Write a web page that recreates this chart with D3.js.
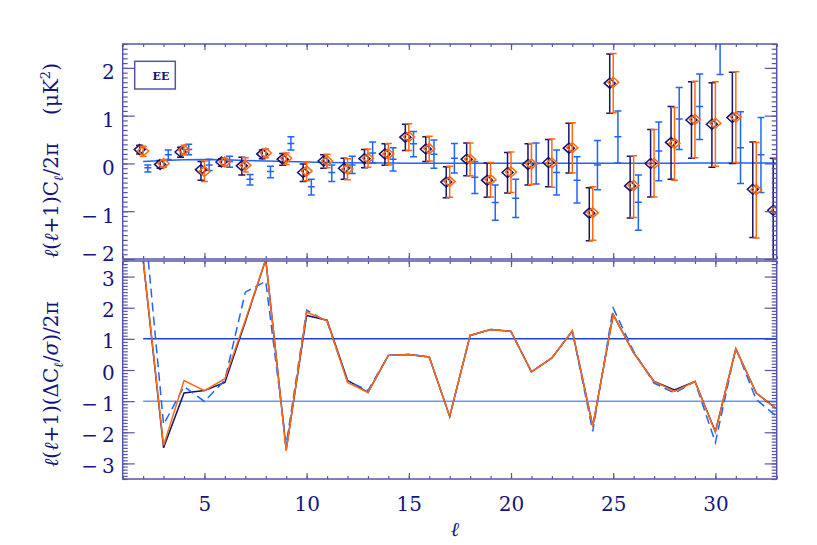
<!DOCTYPE html>
<html><head><meta charset="utf-8">
<script src="https://cdn.jsdelivr.net/npm/d3@7"></script>
<style>body{margin:0;background:#fff}svg{display:block}</style>
</head><body><svg id="c" width="817" height="545"></svg>
<script>
// ---------- data ----------
const ell = [2,3,4,5,6,7,8,9,10,11,12,13,14,15,16,17,18,19,20,21,22,23,24,25,26,27,28,29,30,31,32,33];

const navyVal = [0.29,-0.02,0.24,-0.13,0.03,-0.05,0.20,0.09,-0.19,0.05,-0.10,0.10,0.20,0.55,0.30,-0.39,0.09,-0.35,-0.19,-0.02,0.02,0.32,-1.04,1.68,-0.47,0.00,0.44,0.91,0.82,0.96,-0.54,-0.98];
const navyLo  = [0.20,-0.10,0.13,-0.35,-0.06,-0.24,0.10,-0.04,-0.38,-0.10,-0.33,-0.09,-0.04,0.27,0.04,-0.72,-0.26,-0.71,-0.62,-0.45,-0.49,-0.20,-1.62,1.05,-1.14,-0.70,-0.33,0.11,-0.08,0.00,-1.55,-2.10];
const navyHi  = [0.38,0.06,0.34,0.04,0.10,0.13,0.28,0.21,-0.01,0.18,0.11,0.29,0.41,0.82,0.56,-0.07,0.43,0.01,0.23,0.41,0.50,0.84,-0.51,2.29,0.15,0.71,1.19,1.71,1.69,1.91,0.45,0.11];

const orangeVal = [0.26,0.00,0.28,-0.17,0.03,-0.04,0.22,0.11,-0.16,0.05,-0.12,0.11,0.20,0.56,0.31,-0.38,0.09,-0.34,-0.18,-0.01,0.01,0.33,-1.03,1.70,-0.46,0.00,0.42,0.92,0.84,0.97,-0.55,-0.98];
const orangeLo  = [0.15,-0.08,0.18,-0.38,-0.05,-0.18,0.12,-0.02,-0.36,-0.09,-0.34,-0.08,-0.03,0.27,0.05,-0.71,-0.26,-0.70,-0.61,-0.44,-0.50,-0.20,-1.61,1.06,-1.13,-0.70,-0.35,0.12,-0.06,0.02,-1.56,-2.10];
const orangeHi  = [0.36,0.07,0.38,0.05,0.11,0.12,0.30,0.22,0.02,0.19,0.10,0.30,0.42,0.83,0.57,-0.06,0.43,0.02,0.24,0.42,0.51,0.85,-0.49,2.30,0.16,0.71,1.17,1.72,1.71,1.92,0.44,0.11];

const blueVal = [-0.09,0.18,0.29,-0.03,0.04,-0.33,-0.17,0.42,-0.49,-0.19,-0.03,0.22,0.09,0.41,0.19,0.11,-0.29,-0.82,-0.73,0.00,-0.19,-0.35,-0.03,0.56,-0.81,0.26,0.93,1.19,2.60,0.33,0.18,-0.30];
const blueLo  = [-0.18,0.08,0.18,-0.15,-0.08,-0.45,-0.30,0.28,-0.66,-0.38,-0.21,0.01,-0.16,0.14,-0.10,-0.20,-0.63,-1.19,-1.13,-0.43,-0.66,-0.83,-0.55,0.01,-1.40,-0.36,0.29,0.50,1.86,-0.42,-0.61,-1.10];
const blueHi  = [-0.03,0.28,0.40,0.09,0.15,-0.23,-0.06,0.56,-0.33,-0.03,0.15,0.45,0.33,0.67,0.49,0.42,0.04,-0.45,-0.33,0.43,0.28,0.14,0.48,1.10,-0.24,0.87,1.59,1.87,3.30,1.08,0.96,0.50];

const theory = [0.04,0.06,0.075,0.08,0.075,0.06,0.05,0.04,0.03,0.02,0.015,0.01,0.008,0.006,0.005,0.005,0.005,0.005,0.005,0.005,0.005,0.005,0.005,0.005,0.005,0.005,0.006,0.007,0.008,0.009,0.01,0.01];

const resNavy   = [3.53,-2.50,-0.74,-0.66,-0.40,1.55,3.55,-2.56,1.75,1.60,-0.33,-0.72,0.47,0.50,0.42,-1.49,1.11,1.30,1.24,-0.06,0.39,1.25,-1.81,1.78,0.55,-0.37,-0.64,-0.37,-1.98,0.68,-0.74,-1.25];
const resOrange = [3.55,-2.42,-0.34,-0.66,-0.28,1.60,3.55,-2.60,1.86,1.58,-0.40,-0.72,0.47,0.50,0.42,-1.49,1.11,1.30,1.24,-0.06,0.39,1.27,-1.81,1.78,0.55,-0.37,-0.69,-0.37,-2.00,0.68,-0.74,-1.25];
const resBlue   = [5.30,-1.75,-0.53,-1.01,-0.32,2.50,2.85,-2.40,1.92,1.55,-0.35,-0.66,0.47,0.50,0.42,-1.49,1.11,1.30,1.24,-0.06,0.39,1.25,-1.97,1.99,0.60,-0.42,-0.74,-0.37,-2.33,0.70,-0.95,-1.49];

const xTicks = [5,10,15,20,25,30];
const topYTicks = [-2,-1,0,1,2];
const botYTicks = [-3,-2,-1,0,1,2,3];
const refLevels = [1,-1];
const legendLabel = "EE";

// ---------- layout ----------
const C = {navy:"#14146e", orange:"#ff6a10", blue:"#1e64ff", axis:"#5656a8", text:"#14147a",
           ref1:"#1a40d8", ref2:"#6a96ff"};
const svg = d3.select("#c");
const X0 = 122.7, X1 = 776.7;
const x = d3.scaleLinear().domain([1,33]).range([X0,X1]);
const yT = d3.scaleLinear().domain([-2,2.5]).range([259,44]);
const yB = d3.scaleLinear().domain([-3.5,3.5]).range([479,261]);

const defs = svg.append("defs");
defs.append("clipPath").attr("id","clipT").append("rect")
  .attr("x",X0).attr("y",44).attr("width",X1-X0).attr("height",215);
defs.append("clipPath").attr("id","clipB").append("rect")
  .attr("x",X0).attr("y",261).attr("width",X1-X0).attr("height",218);

const fmt = d => d < 0 ? "\u2212\u2009" + Math.abs(d) : String(d);
const font = "'DejaVu Serif', serif";

function panelAxes(y, top, bottom, yTicks, showX, labelDy){
  const minorY = d3.range(Math.ceil(y.domain()[0]*10), Math.floor(y.domain()[1]*10)+1).map(v=>v/10);
  const minorX = d3.range(1,34);
  // left
  svg.append("g").attr("transform",`translate(${X0},0)`)
    .call(d3.axisLeft(y).tickValues(minorY).tickSize(-5).tickFormat(""))
    .call(g=>g.select(".domain").remove());
  const gl = svg.append("g").attr("transform",`translate(${X0},0)`)
    .call(d3.axisLeft(y).tickValues(yTicks).tickSize(-12).tickPadding(8).tickFormat(fmt))
    .call(g=>g.select(".domain").remove());
  gl.selectAll("text").attr("font-family",font).attr("font-size",20).attr("fill",C.text).attr("dy",labelDy);
  // right
  svg.append("g").attr("transform",`translate(${X1},0)`)
    .call(d3.axisRight(y).tickValues(minorY).tickSize(-5).tickFormat(""))
    .call(g=>g.select(".domain").remove());
  svg.append("g").attr("transform",`translate(${X1},0)`)
    .call(d3.axisRight(y).tickValues(yTicks).tickSize(-12).tickFormat(""))
    .call(g=>g.select(".domain").remove());
  // top & bottom
  [[top,d3.axisTop],[bottom,d3.axisBottom]].forEach(([yy,ax])=>{
    svg.append("g").attr("transform",`translate(0,${yy})`)
      .call(ax(x).tickValues(minorX).tickSize(-3).tickFormat(""))
      .call(g=>g.select(".domain").remove());
  });
  svg.append("g").attr("transform",`translate(0,${top})`)
    .call(d3.axisTop(x).tickValues(xTicks).tickSize(-6).tickFormat(""))
    .call(g=>g.select(".domain").remove());
  const gb = svg.append("g").attr("transform",`translate(0,${bottom})`)
    .call(d3.axisBottom(x).tickValues(xTicks).tickSize(-6).tickPadding(18).tickFormat(showX?d3.format("d"):""))
    .call(g=>g.select(".domain").remove());
  gb.selectAll("text").attr("font-family",font).attr("font-size",20).attr("fill",C.text);
  svg.selectAll(".tick line").attr("stroke",C.axis).attr("stroke-width",1.2);
  svg.append("rect").attr("x",X0).attr("y",top).attr("width",X1-X0).attr("height",bottom-top)
    .attr("fill","none").attr("stroke",C.axis).attr("stroke-width",1.5);
}

// ---------- top panel ----------
const gT = svg.append("g").attr("clip-path","url(#clipT)");
gT.append("path").datum(ell.map((l,i)=>[l,theory[i]]).concat([[33.5,theory[theory.length-1]]]))
  .attr("d",d3.line().x(d=>x(d[0])).y(d=>yT(d[1])))
  .attr("fill","none").attr("stroke",C.blue).attr("stroke-width",1.5);

function errSeries(vals, lo, hi, off, color, marker){
  const g = gT.append("g");
  ell.forEach((l,i)=>{
    const cx = x(l+off);
    g.append("line").attr("x1",cx).attr("x2",cx).attr("y1",yT(lo[i])).attr("y2",yT(hi[i]))
      .attr("stroke",color).attr("stroke-width",1.5);
    [lo[i],hi[i]].forEach(v=>g.append("line").attr("x1",cx-3.5).attr("x2",cx+3.5)
      .attr("y1",yT(v)).attr("y2",yT(v)).attr("stroke",color).attr("stroke-width",1.5));
    const cy = yT(vals[i]);
    if(marker){
      g.append("path").attr("d",`M${cx-5.5},${cy}L${cx},${cy-5}L${cx+5.5},${cy}L${cx},${cy+5}Z`)
        .attr("fill","none").attr("stroke",color).attr("stroke-width",1.5);
      g.append("rect").attr("x",cx-0.7).attr("y",cy-0.7).attr("width",1.4).attr("height",1.4).attr("fill",color);
    } else {
      g.append("line").attr("x1",cx-3.5).attr("x2",cx+3.5).attr("y1",cy).attr("y2",cy)
        .attr("stroke",color).attr("stroke-width",1.5);
    }
  });
}
errSeries(blueVal, blueLo, blueHi, 0.23, C.blue, false);
errSeries(navyVal, navyLo, navyHi, -0.17, C.navy, true);
errSeries(orangeVal, orangeLo, orangeHi, 0, C.orange, true);

panelAxes(yT, 44, 259, topYTicks, false, d => d === -2 ? "0.05em" : "0.55em");

// legend
svg.append("rect").attr("x",134.7).attr("y",61.3).attr("width",40.6).attr("height",27.7)
  .attr("fill","#fff").attr("stroke",C.axis).attr("stroke-width",1.5);
svg.append("text").attr("x",161).attr("y",80).attr("text-anchor","middle")
  .attr("font-family",font).attr("font-weight","bold").attr("font-size",11).attr("fill",C.text).text(legendLabel);

// ---------- bottom panel ----------
const gB = svg.append("g").attr("clip-path","url(#clipB)");
refLevels.forEach((v,i)=>{
  gB.append("line").attr("x1",x(2)).attr("x2",X1).attr("y1",yB(v)).attr("y2",yB(v))
    .attr("stroke",i===0?C.ref1:C.ref2).attr("stroke-width",1.5);
});
const lineB = d3.line().x(d=>x(d[0])).y(d=>yB(d[1]));
[[resNavy,C.navy,null],[resBlue,C.blue,"9,5"],[resOrange,C.orange,null]].forEach(([arr,col,dash])=>{
  gB.append("path").datum(ell.map((l,i)=>[l,arr[i]])).attr("d",lineB)
    .attr("fill","none").attr("stroke",col).attr("stroke-width",1.5)
    .attr("stroke-dasharray",dash);
});
panelAxes(yB, 261, 479, botYTicks, true, "0.45em");

// ---------- axis titles ----------
const t1 = svg.append("text").attr("transform","translate(58,258) rotate(-90)")
  .attr("font-family",font).attr("font-size",20).attr("fill",C.text);
t1.append("tspan").attr("font-style","italic").text("\u2113");
t1.append("tspan").text("(");
t1.append("tspan").attr("font-style","italic").text("\u2113");
t1.append("tspan").text("+1)C");
t1.append("tspan").attr("font-style","italic").attr("font-size",13).attr("dy",5).text("\u2113");
t1.append("tspan").attr("dy",-5).text("/2\u03c0");
t1.append("tspan").attr("dx",28).text("(\u03bcK");
t1.append("tspan").attr("font-size",13).attr("dy",-8).text("2");
t1.append("tspan").attr("dy",8).text(")");

const t2 = svg.append("text").attr("transform","translate(58,467) rotate(-90)")
  .attr("font-family",font).attr("font-size",20).attr("fill",C.text);
t2.append("tspan").attr("font-style","italic").text("\u2113");
t2.append("tspan").text("(");
t2.append("tspan").attr("font-style","italic").text("\u2113");
t2.append("tspan").text("+1)(\u0394C");
t2.append("tspan").attr("font-style","italic").attr("font-size",13).attr("dy",5).text("\u2113");
t2.append("tspan").attr("dy",-5).text("/");
t2.append("tspan").attr("font-style","italic").text("\u03c3");
t2.append("tspan").text(")/2\u03c0");

svg.append("text").attr("x",455).attr("y",536).attr("text-anchor","middle")
  .attr("font-family",font).attr("font-style","italic").attr("font-size",20).attr("fill",C.text).text("\u2113");
</script></body></html>
